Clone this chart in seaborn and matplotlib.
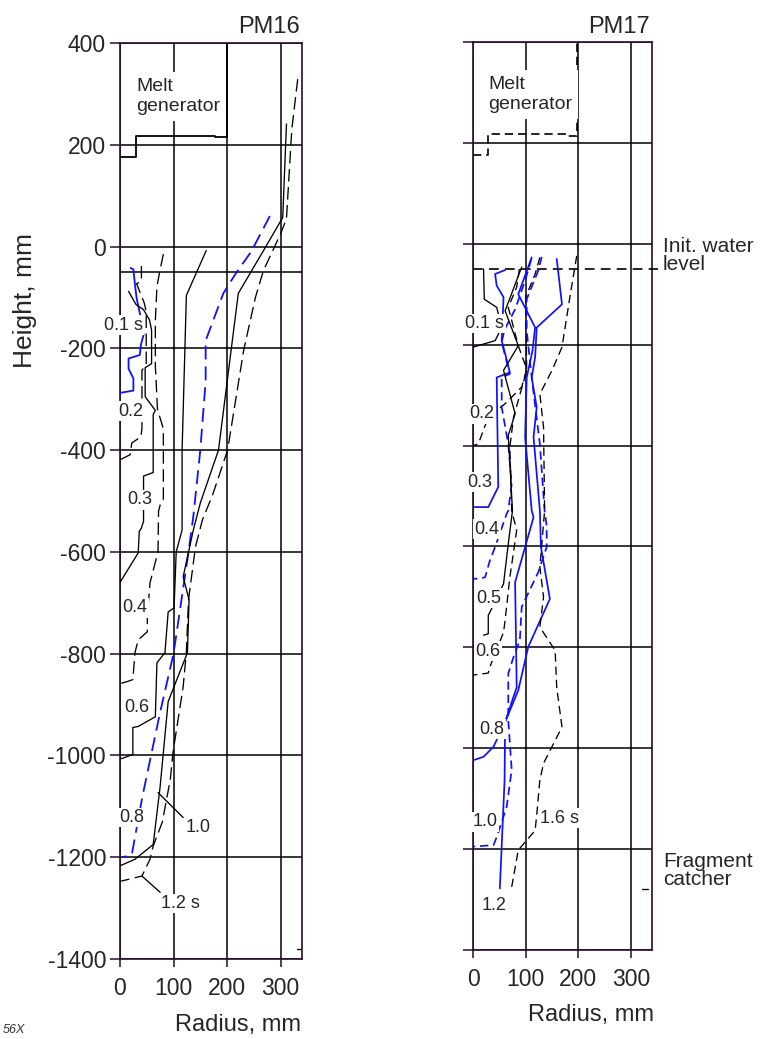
import matplotlib
matplotlib.use("Agg")
import matplotlib.pyplot as plt
import seaborn as sns

# ------------------------------------------------------------------ data
x_ticks = [0, 100, 200, 300]
y_ticks = [-1400, -1200, -1000, -800, -600, -400, -200, 0, 200, 400]
x_lim = [0, 340]
y_lim = [-1400, 400]

# PM16 ---------------------------------------------------------------
pm16_melt_r = [0, 30, 30, 178, 178, 199, 199]
pm16_melt_h = [175, 175, 218, 218, 215, 215, 400]
pm16_water_r = [0, 340]
pm16_water_h = [-50, -50]

pm16_t01_r = [20, 25, 28, 31, 37, 44, 39, 37, 16, 16, 25, 25, 3, 0]
pm16_t01_h = [-42, -45, -75, -101, -131, -174, -193, -213, -220, -240, -259, -283, -287, -287]
pm16_t02_r = [40, 40, 31, 45, 49, 49, 41, 41, 41, 39, 22, 19, 0]
pm16_t02_h = [-38, -68, -73, -110, -127, -233, -243, -292, -357, -374, -386, -409, -419]
pm16_t03_r = [16, 30, 44, 55, 59, 59, 47, 47, 66, 62, 62, 44, 44, 40, 36, 34, 0]
pm16_t03_h = [-88, -114, -124, -144, -164, -230, -238, -295, -322, -330, -444, -451, -540, -553, -560, -602, -660]
pm16_t04_r = [81, 75, 69, 66, 66, 70, 81, 81, 75, 72, 71, 56, 51, 51, 34, 28, 24, 13, 0]
pm16_t04_h = [-15, -45, -78, -147, -233, -320, -358, -496, -508, -520, -600, -661, -727, -757, -773, -798, -851, -855, -859]
pm16_t06_r = [161, 124, 116, 116, 105, 101, 90, 84, 69, 66, 34, 24, 24, 4, 0]
pm16_t06_h = [-8, -96, -400, -557, -600, -710, -718, -798, -818, -924, -943, -945, -998, -1006, -1006]
pm16_t08_r = [280, 245, 215, 193, 160, 160, 150, 137, 128, 100, 75, 42, 22, 5]
pm16_t08_h = [60, -10, -55, -92, -185, -265, -400, -530, -600, -800, -915, -1080, -1195, -1200]
pm16_t10_r = [311, 304, 268, 221, 184, 150, 137, 118, 129, 126, 90, 75, 62, 28, 2]
pm16_t10_h = [241, 57, -8, -92, -400, -504, -557, -649, -694, -798, -894, -1061, -1175, -1204, -1216]
pm16_t12_r = [332, 321, 311, 300, 268, 253, 231, 201, 173, 154, 141, 128, 124, 118, 99, 94, 79, 62, 56, 41, 2]
pm16_t12_h = [329, 231, 55, 25, -47, -100, -204, -400, -488, -537, -590, -694, -796, -865, -994, -1047, -1131, -1178, -1204, -1237, -1247]

pm16_lab_text = ["0.1 s", "0.2", "0.3", "0.4", "0.6", "0.8", "1.0", "1.2 s"]
pm16_lab_r = [6, 21, 36, 28, 32, 22, 146, 112]
pm16_lab_h = [-155, -324, -498, -710, -906, -1122, -1141, -1291]
pm16_lead10_r = [71, 118]
pm16_lead10_h = [-1073, -1122]
pm16_lead12_r = [41, 75]
pm16_lead12_h = [-1237, -1269]
pm16_mark_r = [330, 340]
pm16_mark_h = [-1380, -1380]

# PM17 ---------------------------------------------------------------
pm17_melt_r = [0, 28, 28, 179, 179, 198, 198]
pm17_melt_h = [176, 176, 218, 218, 214, 214, 400]
pm17_water_r = [0, 352]
pm17_water_h = [-50, -50]

pm17_t01_r = [20, 21.5, 45, 54.5, 42, 0]
pm17_t01_h = [-50, -110, -126, -166, -192, -205]
pm17_t02_r = [88, 83, 67, 86, 102, 92.5, 61, 29, 19.6, 10, 0]
pm17_t02_h = [-50, -86, -126, -202, -248, -284, -317, -344, -370, -397, -400]
pm17_t03_r = [61, 42, 45, 58, 54.5, 61, 70, 45, 48, 29, 0]
pm17_t03_h = [-52, -60, -83, -106, -192, -218, -255, -265, -482, -522, -522]
pm17_t04_r = [111, 99, 80, 60, 54.5, 70, 54.5, 54.5, 67, 73.5, 67, 64, 42, 32, 23, 13, 0]
pm17_t04_h = [-30, -73, -130, -170, -195, -258, -265, -324, -397, -476, -529, -535, -601, -628, -661, -664, -664]
pm17_t05_r = [92.5, 61, 86, 58, 80, 67, 75, 67, 58, 29, 29, 20]
pm17_t05_h = [-46, -133, -202, -251, -337, -380, -529, -595, -674, -737, -773, -776]
pm17_t06_r = [127, 118, 100, 102, 77, 70, 73.5, 83, 70, 61, 58, 32, 29, 0]
pm17_t06_h = [-27, -60, -106, -251, -344, -403, -529, -568, -661, -746, -770, -839, -851, -855]
pm17_t08_r = [111.5, 86, 118, 113, 102, 99, 111.5, 115, 99, 80, 83, 61, 39, 20, 0]
pm17_t08_h = [-27, -100, -166, -212, -265, -383, -529, -542, -601, -671, -879, -948, -997, -1017, -1024]
pm17_t10_r = [130.5, 124, 102, 102, 111.5, 127, 136, 140, 140, 124, 92.5, 89, 77, 67, 67, 73.5, 64, 45, 39, 0]
pm17_t10_h = [-26, -53, -110, -172, -265, -397, -529, -560, -601, -651, -720, -786, -819, -852, -944, -1043, -1116, -1176, -1192, -1195]
pm17_t12_r = [159, 169, 121, 118, 111.5, 121, 115, 127, 129, 146, 105, 86, 61, 60, 51]
pm17_t12_h = [-30, -120, -166, -225, -265, -324, -383, -529, -601, -704, -799, -885, -948, -1063, -1278]
pm17_t16_r = [197, 184, 169, 150, 127, 134, 136, 127, 134, 127, 156, 159, 169, 150, 134, 127, 121, 118, 99, 86, 73.5]
pm17_t16_h = [-24, -106, -205, -251, -298, -364, -529, -641, -700, -760, -806, -879, -958, -997, -1030, -1063, -1133, -1163, -1186, -1202, -1275]

pm17_lab_text = ["0.1 s", "0.2", "0.3", "0.4", "0.5", "0.6", "0.8", "1.0", "1.2", "1.6 s"]
pm17_lab_r = [22, 17, 13, 26, 29, 29, 36, 23, 40, 165]
pm17_lab_h = [-158, -337, -473, -566, -703, -808, -962, -1146, -1311, -1139]
pm17_mark_r = [321, 332]
pm17_mark_h = [-1279, -1279]

# ------------------------------------------------------------------ style
sns.set_theme(style="ticks")
plt.rcParams["font.family"] = ["Liberation Sans", "DejaVu Sans"]
plt.rcParams["lines.scale_dashes"] = False
plt.rcParams["axes.unicode_minus"] = False

BLUE = "#1010ff"
SPINE = "#2a0a2e"
DASH_L = (0, (9, 4))
DASH_S = (0, (6, 3.5))

fig = plt.figure(figsize=(7.6, 10.39), dpi=100)
ax1 = fig.add_axes([120 / 760, 1 - 959 / 1039, 182 / 760, 916 / 1039])
ax2 = fig.add_axes([473 / 760, 1 - 950 / 1039, 179 / 760, 908 / 1039])


def curve(ax, r, h, color="black", ls="solid", lw=0.95, z=3, clip=True):
    sns.lineplot(x=r, y=h, sort=False, estimator=None, ax=ax, color=color,
                 linestyle=ls, linewidth=lw, zorder=z, clip_on=clip)


for ax in (ax1, ax2):
    ax.set_xlim(x_lim)
    ax.set_ylim(y_lim)
    ax.set_xticks(x_ticks)
    ax.set_yticks(y_ticks)
    ax.grid(True, color="black", linewidth=1.1)
    ax.set_axisbelow(True)
    for s in ax.spines.values():
        s.set_color(SPINE)
        s.set_linewidth(1.2)
    ax.tick_params(axis="y", direction="out", length=7, width=1.1, color=SPINE,
                   pad=3, labelsize=16.5)
    ax.tick_params(axis="x", direction="out", length=6, width=1.1, color=SPINE,
                   pad=7, labelsize=16.5)
ax2.tick_params(labelleft=False)

# ---- PM16
curve(ax1, pm16_melt_r, pm16_melt_h, lw=1.3)
curve(ax1, pm16_water_r, pm16_water_h, lw=1.1)
curve(ax1, pm16_t01_r, pm16_t01_h, color=BLUE, lw=1.3)
curve(ax1, pm16_t02_r, pm16_t02_h, ls=DASH_L)
curve(ax1, pm16_t03_r, pm16_t03_h)
curve(ax1, pm16_t04_r, pm16_t04_h, ls=DASH_L)
curve(ax1, pm16_t06_r, pm16_t06_h)
curve(ax1, pm16_t08_r, pm16_t08_h, color=BLUE, ls=(0, (10, 5)), lw=1.3)
curve(ax1, pm16_t10_r, pm16_t10_h)
curve(ax1, pm16_t12_r, pm16_t12_h, ls=DASH_L)
curve(ax1, pm16_lead10_r, pm16_lead10_h)
curve(ax1, pm16_lead12_r, pm16_lead12_h)
curve(ax1, pm16_mark_r, pm16_mark_h)

# ---- PM17
curve(ax2, pm17_melt_r, pm17_melt_h, ls=DASH_S, lw=1.2)
curve(ax2, pm17_water_r, pm17_water_h, ls=(0, (7, 4.5)), lw=1.2, clip=False)
curve(ax2, pm17_t01_r, pm17_t01_h)
curve(ax2, pm17_t02_r, pm17_t02_h, ls=DASH_S)
curve(ax2, pm17_t03_r, pm17_t03_h, color=BLUE, lw=1.25)
curve(ax2, pm17_t04_r, pm17_t04_h, color=BLUE, ls=DASH_S, lw=1.25)
curve(ax2, pm17_t05_r, pm17_t05_h)
curve(ax2, pm17_t06_r, pm17_t06_h, ls=DASH_S)
curve(ax2, pm17_t08_r, pm17_t08_h, color=BLUE, lw=1.25)
curve(ax2, pm17_t10_r, pm17_t10_h, color=BLUE, ls=DASH_S, lw=1.25)
curve(ax2, pm17_t12_r, pm17_t12_h, color=BLUE, lw=1.25)
curve(ax2, pm17_t16_r, pm17_t16_h, ls=DASH_S)
curve(ax2, pm17_mark_r, pm17_mark_h)

for ax in (ax1, ax2):
    ax.set_xlabel("")
    ax.set_ylabel("")

box = dict(boxstyle="square,pad=0.08", fc="white", ec="none")
for t, r, h in zip(pm16_lab_text, pm16_lab_r, pm16_lab_h):
    ax1.text(r, h, t, fontsize=13, ha="center", va="center", bbox=box, zorder=6)
for t, r, h in zip(pm17_lab_text, pm17_lab_r, pm17_lab_h):
    ax2.text(r, h, t, fontsize=13, ha="center", va="center", bbox=box, zorder=6)

mbox = dict(boxstyle="square,pad=0.3", fc="white", ec="none")
ax1.text(30, 331, "Melt\ngenerator", fontsize=14, ha="left", va="top",
         bbox=mbox, zorder=4, linespacing=1.25)
ax2.text(28.5, 333, "Melt\ngenerator", fontsize=14, ha="left", va="top",
         bbox=mbox, zorder=4, linespacing=1.25)

# ---- figure texts
fig.text(300 / 760, 1 - 33 / 1039, "PM16", fontsize=17, ha="right", va="baseline")
fig.text(650 / 760, 1 - 33 / 1039, "PM17", fontsize=17, ha="right", va="baseline")
fig.text(25 / 760, 1 - 300 / 1039, "Height, mm", fontsize=19, rotation=90,
         ha="center", va="center")
fig.text(301 / 760, 1 - 1031 / 1039, "Radius, mm", fontsize=17, ha="right", va="baseline")
fig.text(654 / 760, 1 - 1021 / 1039, "Radius, mm", fontsize=17, ha="right", va="baseline")
fig.text(663 / 760, 1 - 237 / 1039, "Init. water\nlevel", fontsize=15, ha="left",
         va="top", linespacing=0.95)
fig.text(663 / 760, 1 - 852 / 1039, "Fragment\ncatcher", fontsize=15, ha="left",
         va="top", linespacing=0.95)
fig.text(3 / 760, 1 - 1024 / 1039, "56X", fontsize=9, style="italic", color="#333333",
         ha="left", va="top")

fig.savefig("out.png", dpi=100)
